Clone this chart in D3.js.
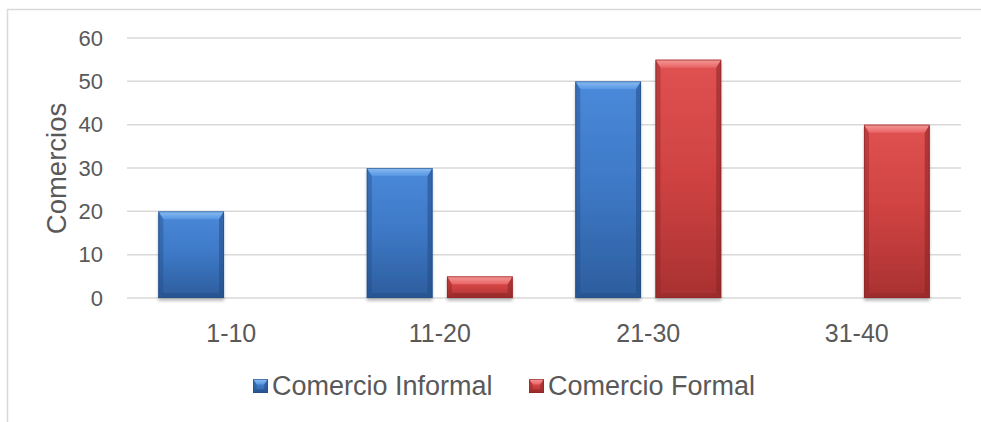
<!DOCTYPE html>
<html><head><meta charset="utf-8">
<script src="https://cdn.jsdelivr.net/npm/d3@7"></script>
<style>html,body{margin:0;padding:0;background:#fff;overflow:hidden}svg{display:block}</style>
</head><body>
<script>
const categories = ["1-10", "11-20", "21-30", "31-40"];
const seriesNames = ["Comercio Informal", "Comercio Formal"];
const informal = [20, 30, 50, 0];
const formal = [0, 5, 55, 40];
const yTicks = [0, 10, 20, 30, 40, 50, 60];
const yTitle = "Comercios";

const W = 981, H = 422;
const FONT = "Liberation Sans, Arial, sans-serif";
const svg = d3.select("body").append("svg").attr("width", W).attr("height", H);
const defs = svg.append("defs");
const palettes = [
  {top:"#4a89da", mid:"#3d78c5", bot:"#2d5d9d", hi:"#8cbdf2", hi2:"#5596e2", edge:"#234c85", bevBot:"#28548f"},
  {top:"#e05252", mid:"#cf4242", bot:"#a93131", hi:"#f59a9a", hi2:"#e86464", edge:"#8a2424", bevBot:"#9a2b2b"}
];
palettes.forEach((p,i)=>{
  const g = defs.append("linearGradient").attr("id","grad"+i).attr("x1",0).attr("y1",0).attr("x2",0).attr("y2",1);
  g.append("stop").attr("offset","0%").attr("stop-color",p.top);
  g.append("stop").attr("offset","50%").attr("stop-color",p.mid);
  g.append("stop").attr("offset","100%").attr("stop-color",p.bot);
  const h = defs.append("linearGradient").attr("id","hi"+i).attr("x1",0).attr("y1",0).attr("x2",0).attr("y2",1);
  h.append("stop").attr("offset","0%").attr("stop-color",p.hi);
  h.append("stop").attr("offset","100%").attr("stop-color",p.hi2);
});
const f = defs.append("filter").attr("id","shadow").attr("x","-20%").attr("y","-20%").attr("width","140%").attr("height","140%");
f.append("feDropShadow").attr("dx",0).attr("dy",3).attr("stdDeviation",1.8).attr("flood-color","#000").attr("flood-opacity",0.25);

// chart border
svg.append("rect").attr("x",7.5).attr("y",9.5).attr("width",W+20).attr("height",H+20)
  .attr("fill","none").attr("stroke","#d9d9d9").attr("stroke-width",1.5);

const x = d3.scaleBand().domain(categories).range([127, 961]).padding(0);
const x1 = d3.scaleBand().domain(seriesNames).range([0, x.bandwidth()]).paddingInner(0.18).paddingOuter(0.39);
const y = d3.scaleLinear().domain([0, 60]).range([298, 38]);

// gridlines
svg.append("g").selectAll("line").data(yTicks).join("line")
  .attr("x1",127).attr("x2",961).attr("y1",d=>y(d)).attr("y2",d=>y(d))
  .attr("stroke","#d9d9d9").attr("stroke-width",1.5);

// y axis labels
const yAxis = svg.append("g").attr("transform","translate(103,0)")
  .call(d3.axisLeft(y).tickValues(yTicks).tickSize(0).tickPadding(0));
yAxis.select(".domain").remove();
yAxis.selectAll("text").attr("font-family",FONT).attr("font-size",22).attr("fill","#595959");

// x axis labels
const xAxis = svg.append("g").attr("transform","translate(0,298)")
  .call(d3.axisBottom(x).tickSize(0).tickPadding(26));
xAxis.select(".domain").remove();
xAxis.selectAll("text").attr("font-family",FONT).attr("font-size",25).attr("fill","#595959");

// y title
svg.append("text").attr("transform","translate(66,168.5) rotate(-90)").attr("text-anchor","middle")
  .attr("font-family",FONT).attr("font-size",27.5).attr("fill","#595959").text(yTitle);

// bars
const seriesVals = [informal, formal];
function bevelBar(g, x0, y0, w, h, si, shadow){
  const p = palettes[si];
  const gg = g.append("g");
  const r = gg.append("rect").attr("x",x0).attr("y",y0).attr("width",w).attr("height",h).attr("fill","url(#grad"+si+")");
  if (shadow) r.attr("filter","url(#shadow)");
  const bt = Math.min(8, h/2.5), bs = Math.min(5, w/4), bb = Math.min(5, h/4);
  gg.append("polygon").attr("points",[[x0,y0],[x0+w,y0],[x0+w-bs,y0+bt],[x0+bs,y0+bt]].map(d=>d.join(",")).join(" "))
    .attr("fill","url(#hi"+si+")");
  gg.append("polygon").attr("points",[[x0,y0],[x0+bs,y0+bt],[x0+bs,y0+h-bb],[x0,y0+h]].map(d=>d.join(",")).join(" "))
    .attr("fill",p.edge).attr("opacity",0.4);
  gg.append("polygon").attr("points",[[x0+w,y0],[x0+w-bs,y0+bt],[x0+w-bs,y0+h-bb],[x0+w,y0+h]].map(d=>d.join(",")).join(" "))
    .attr("fill",p.edge).attr("opacity",0.55);
  gg.append("polygon").attr("points",[[x0,y0+h],[x0+bs,y0+h-bb],[x0+w-bs,y0+h-bb],[x0+w,y0+h]].map(d=>d.join(",")).join(" "))
    .attr("fill",p.bevBot).attr("opacity",0.8);
  gg.append("rect").attr("x",x0+0.5).attr("y",y0+0.5).attr("width",w-1).attr("height",h-1).attr("fill","none").attr("stroke",p.edge).attr("stroke-width",1).attr("opacity",0.6);
}
const barsG = svg.append("g");
categories.forEach((c,ci)=>{
  seriesNames.forEach((s,si)=>{
    const v = seriesVals[si][ci];
    if(!v) return;
    bevelBar(barsG, x(c)+x1(s), y(v), x1.bandwidth(), y(0)-y(v), si, true);
  });
});

// legend
const legendX = [253, 529];
const lg = svg.append("g");
seriesNames.forEach((s,si)=>{
  const item = lg.append("g").attr("transform",`translate(${legendX[si]},379)`);
  bevelBar(item, 0, 0, 15, 14, si, false);
  item.append("text").attr("x",19).attr("y",16).attr("font-family",FONT)
    .attr("font-size",27).attr("fill","#595959").text(s);
});
</script>
</body></html>
